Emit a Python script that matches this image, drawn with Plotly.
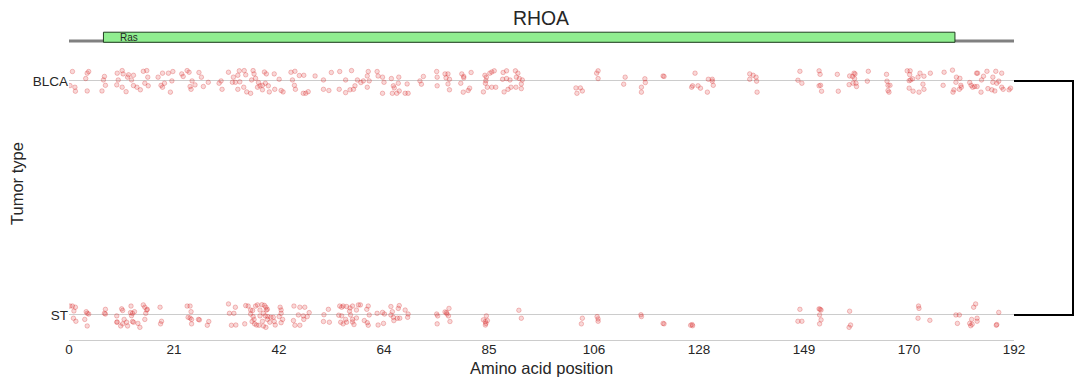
import plotly.graph_objects as go

protein = "RHOA"
protein_length = 192
domain_names = ["Ras"]
domain_start = [7]
domain_end = [180]
tumor_types = ["BLCA", "ST"]
tick_labels = ["0", "21", "42", "64", "85", "106", "128", "149", "170", "192"]

# (amino acid position, vertical jitter in row units)
blca_points = [
    (0.7,0.04),(0.2,-0.02),(1.2,-0.027),(1.3,-0.044),(3.7,0.033),(4.0,0.04),(3.4,0.01),(3.7,-0.043),
    (7.2,0.019),(7.0,0.004),(7.4,-0.019),(6.7,-0.043),(9.8,0.033),(10.8,0.044),(11.0,0.03),(10.0,0.004),
    (9.7,-0.017),(10.8,-0.027),(11.6,-0.046),(12.1,0.026),(11.9,0.016),(12.7,0.004),(13.1,0.024),(13.1,-0.02),
    (13.8,-0.027),(14.5,-0.038),(15.1,0.041),(15.8,0.044),(15.4,-0.01),(16.0,0.016),(16.1,-0.021),(18.1,0.016),
    (19.0,0.033),(18.7,-0.019),(19.0,-0.027),(19.4,-0.01),(20.2,0.033),(21.1,0.04),(20.9,0.0),(20.6,-0.048),
    (22.9,0.03),(23.2,0.019),(24.0,0.044),(24.4,0.037),(25.0,0.0),(24.6,-0.024),(24.8,-0.036),(25.6,-0.017),
    (26.4,0.036),(26.9,0.016),(27.3,-0.024),(28.3,-0.006),(30.5,-0.01),(30.9,0.0),(31.1,-0.036),(32.4,0.037),
    (33.2,-0.006),(33.4,0.016),(33.8,-0.006),(34.3,0.024),(34.3,-0.036),(34.6,0.043),(34.7,-0.004),(35.6,0.044),
    (35.9,0.026),(35.5,-0.027),(36.1,-0.047),(36.9,-0.053),(37.4,0.044),(37.6,0.03),(37.1,0.004),(37.9,0.011),
    (38.5,-0.007),(38.3,-0.027),(38.8,-0.021),(39.3,-0.019),(39.3,-0.038),(39.7,0.038),(40.1,0.03),(39.9,-0.01),
    (40.5,-0.021),(40.7,-0.047),(41.7,0.03),(41.8,-0.036),(42.7,0.007),(43.1,-0.041),(43.5,-0.047),(45.1,0.037),
    (45.9,0.041),(45.4,0.004),(45.8,-0.019),(46.0,-0.036),(46.8,0.023),(47.7,0.024),(47.6,-0.053),(48.1,-0.053),
    (48.6,-0.046),(50.0,0.021),(51.7,0.004),(51.7,-0.036),(52.8,-0.041),(53.3,0.036),(55.0,0.04),(54.9,-0.036),
    (56.2,-0.05),(56.2,0.004),(57.4,0.044),(57.1,-0.038),(57.8,-0.036),(58.1,-0.021),(58.6,0.004),(59.3,-0.007),
    (59.8,0.0),(60.8,0.04),(60.6,0.021),(61.0,0.0),(60.6,-0.027),(62.6,0.04),(62.8,0.021),(63.7,0.016),
    (64.0,-0.006),(63.7,-0.053),(65.5,0.01),(65.9,-0.021),(66.1,-0.03),(65.7,-0.053),(66.6,-0.053),(67.0,0.016),
    (66.9,-0.01),(67.1,-0.043),(68.3,-0.053),(68.9,-0.053),(68.7,-0.013),(71.3,0.0),(71.6,-0.014),(72.0,0.019),
    (74.7,0.04),(74.8,0.016),(74.8,-0.021),(76.4,0.03),(77.0,0.03),(76.6,0.013),(77.3,0.007),(77.0,-0.013),
    (77.3,-0.038),(79.8,0.03),(80.2,0.019),(80.2,0.013),(79.6,-0.01),(81.7,0.036),(81.4,-0.031),(81.1,-0.041),
    (80.1,-0.048),(84.5,0.024),(84.8,0.016),(85.5,0.033),(85.9,0.038),(86.4,0.043),(84.7,0.001),(84.6,-0.01),
    (85.0,-0.027),(84.2,-0.047),(85.9,-0.027),(86.7,-0.027),(88.1,0.007),(88.2,0.036),(88.9,0.043),(88.9,0.01),
    (89.6,0.004),(89.8,-0.027),(89.2,-0.036),(88.4,-0.047),(90.7,0.043),(91.2,0.033),(90.9,0.016),(91.5,0.01),
    (92.1,0.004),(91.9,-0.013),(91.9,-0.033),(90.8,-0.027),(107.2,0.033),(107.5,0.043),(107.5,0.01),(103.0,-0.03),
    (103.2,-0.053),(103.9,-0.03),(104.3,-0.043),(113.0,0.016),(112.7,-0.014),(117.0,0.009),(117.1,-0.007),
    (116.3,-0.027),(116.3,-0.048),(120.7,0.021),(120.9,0.019),(126.5,-0.027),(126.7,-0.021),(127.2,0.033),
    (127.8,-0.021),(128.3,-0.031),(129.9,0.007),(130.7,0.007),(130.7,-0.001),(130.9,-0.019),(129.7,-0.048),
    (138.3,0.03),(139.0,0.024),(139.6,0.016),(138.3,0.007),(139.7,-0.001),(139.8,-0.048),(148.5,0.041),
    (148.1,0.003),(148.9,-0.01),(152.4,0.043),(152.6,0.028),(152.4,-0.021),(152.7,-0.019),(152.9,-0.044),
    (156.1,0.028),(156.3,-0.044),(158.6,0.021),(159.2,0.019),(159.5,0.033),(159.7,0.03),(159.6,0.01),
    (159.3,-0.01),(159.9,-0.01),(158.5,-0.016),(160.0,-0.024),(162.4,0.041),(162.2,-0.001),(166.1,0.028),
    (166.2,-0.001),(166.4,-0.019),(166.8,-0.019),(166.4,-0.041),(166.6,-0.048),(170.3,0.043),(170.9,0.043),
    (170.8,0.027),(171.4,0.009),(171.0,0.004),(170.7,0.001),(172.5,0.016),(172.9,0.033),(173.7,0.02),
    (173.5,-0.014),(173.7,-0.036),(172.7,-0.048),(171.5,-0.044),(170.7,-0.031),(175.0,0.033),(177.8,0.037),
    (179.5,0.046),(177.6,-0.019),(179.8,-0.038),(179.6,-0.048),(180.3,0.016),(181.0,0.011),(180.2,-0.006),
    (180.9,-0.036),(181.2,-0.019),(181.3,-0.027),(184.4,0.033),(184.6,0.033),(183.0,-0.007),(183.3,-0.019),
    (183.6,-0.027),(184.0,-0.024),(184.5,-0.024),(185.4,0.004),(185.8,0.02),(185.3,-0.048),(186.5,0.041),
    (186.7,-0.033),(187.5,-0.038),(188.1,-0.043),(187.7,0.016),(188.3,0.041),(189.5,0.033),(187.7,-0.006),
    (188.5,-0.01),(188.9,-0.001),(189.5,-0.027),(189.8,-0.036),(191.0,-0.038),(191.3,-0.031),
]

st_points = [
    (0.2,0.038),(0.7,0.038),(1.3,0.033),(1.0,0.017),(0.9,-0.014),(1.4,-0.027),(3.5,0.014),(3.7,0.007),
    (4.0,0.004),(3.2,-0.019),(3.7,-0.047),(7.2,0.007),(7.4,0.004),(7.4,0.024),(9.7,-0.004),(9.8,-0.03),
    (9.7,-0.031),(10.7,0.026),(10.9,0.019),(10.5,-0.047),(10.9,-0.038),(11.2,-0.019),(11.7,-0.031),(11.9,-0.047),
    (12.6,0.038),(12.5,0.01),(12.9,0.007),(12.7,-0.003),(12.9,-0.028),(13.1,-0.031),(13.3,0.014),(14.0,-0.036),
    (14.4,-0.053),(15.1,0.043),(15.4,0.033),(15.8,0.021),(15.9,0.024),(15.6,0.007),(15.4,-0.019),(18.5,0.033),
    (18.8,-0.027),(18.6,-0.038),(24.0,0.038),(24.6,0.038),(24.8,0.014),(24.2,-0.01),(24.6,-0.013),(24.9,-0.019),
    (24.9,-0.038),(26.3,-0.019),(26.5,-0.021),(28.1,-0.044),(28.4,-0.028),(32.4,0.047),(32.6,0.007),(33.8,0.033),
    (33.5,0.007),(33.0,-0.044),(33.9,-0.043),(35.9,0.04),(36.4,0.038),(36.9,0.021),(37.3,0.019),(36.9,0.004),
    (37.4,-0.007),(37.6,-0.019),(35.7,-0.038),(37.2,-0.028),(37.7,-0.038),(38.1,-0.043),(38.6,-0.044),(37.9,0.038),
    (38.3,0.043),(39.2,0.044),(39.7,0.041),(40.0,0.033),(38.8,0.021),(39.5,0.007),(38.8,-0.004),(40.1,0.021),
    (40.3,0.024),(39.9,-0.004),(40.4,-0.007),(40.3,-0.019),(39.3,-0.027),(39.5,-0.047),(40.0,-0.053),(41.0,-0.01),
    (40.8,-0.031),(41.5,-0.01),(41.7,-0.028),(41.9,-0.043),(42.9,0.033),(43.1,0.021),(43.1,0.007),(42.7,-0.007),
    (43.4,-0.019),(43.1,-0.033),(45.7,0.038),(46.9,0.033),(47.9,0.033),(46.6,0.0),(47.6,-0.004),(48.8,0.01),
    (45.6,-0.024),(45.9,-0.044),(46.9,-0.044),(47.7,-0.019),(48.4,-0.007),(51.8,0.001),(51.7,-0.028),(52.7,0.024),
    (52.9,-0.031),(55.0,0.038),(55.4,0.033),(55.7,0.038),(54.8,-0.001),(55.4,-0.004),(55.2,-0.031),(55.7,-0.038),
    (56.4,0.036),(57.1,0.03),(57.6,0.038),(57.0,0.016),(57.2,0.0),(56.2,-0.019),(56.4,-0.031),(57.6,-0.019),
    (57.6,-0.03),(57.9,-0.041),(58.4,0.021),(58.8,0.043),(58.4,-0.013),(59.2,0.043),(60.8,0.038),(60.5,0.024),
    (61.0,0.0),(60.6,-0.033),(60.8,-0.044),(60.0,-0.024),(62.6,0.007),(62.8,-0.043),(63.7,0.011),(63.9,-0.036),
    (64.1,0.004),(65.4,0.036),(65.7,0.014),(65.4,0.0),(65.9,-0.01),(66.0,-0.024),(67.1,0.04),(66.9,0.028),
    (66.7,-0.014),(67.2,-0.014),(68.3,0.021),(68.9,0.004),(68.8,-0.01),(74.7,0.004),(74.9,-0.004),(74.8,-0.038),
    (76.4,0.013),(76.7,0.01),(76.8,0.004),(77.2,0.028),(77.1,-0.004),(77.4,-0.028),(84.2,-0.021),(84.6,-0.028),
    (84.7,-0.036),(84.8,-0.004),(84.6,-0.043),(85.0,-0.024),(91.4,0.02),(91.9,-0.014),(104.1,-0.038),
    (104.3,-0.014),(107.3,-0.007),(107.5,-0.017),(107.5,-0.027),(116.2,0.001),(116.3,-0.007),(120.7,-0.036),
    (120.9,-0.038),(126.3,-0.044),(126.6,-0.041),(126.7,-0.046),(148.5,0.024),(148.1,-0.027),(148.9,-0.027),
    (152.4,0.026),(152.6,0.024),(152.8,0.021),(152.5,0.0),(152.8,-0.021),(152.5,-0.038),(158.6,0.016),
    (158.8,-0.043),(158.5,-0.053),(172.6,0.038),(172.7,0.028),(172.5,-0.014),(174.9,-0.023),(180.2,0.0),
    (180.9,0.0),(180.5,-0.036),(183.0,-0.036),(183.2,-0.046),(183.4,-0.019),(183.5,-0.04),(183.8,0.033),
    (184.2,0.047),(184.5,-0.014),(184.5,-0.027),(188.4,-0.044),(188.5,-0.041),(188.9,0.011),
]

FONT = "Liberation Sans, Arial, sans-serif"
TXT = "#262626"

row_y = {"BLCA": 1.0, "ST": 0.0}

fig = go.Figure()
for name, pts in (("BLCA", blca_points), ("ST", st_points)):
    fig.add_trace(go.Scatter(
        x=[p[0] for p in pts],
        y=[row_y[name] + p[1] for p in pts],
        mode="markers",
        marker=dict(size=4.5, color="rgba(214,39,40,0.18)", line=dict(color="rgba(214,39,40,0.28)", width=1)),
        showlegend=False, hoverinfo="x", name=name,
    ))

# dendrogram on the right
fig.add_trace(go.Scatter(
    x=[0, 1, 1, 0], y=[row_y["BLCA"], row_y["BLCA"], row_y["ST"], row_y["ST"]],
    mode="lines", line=dict(color="black", width=2),
    xaxis="x2", yaxis="y2", showlegend=False, hoverinfo="skip",
))

L = protein_length
tickvals = [L * i / 9 for i in range(10)]
backbone_y = 1.170
shapes = [dict(type="line", xref="x", yref="y", x0=0, x1=L, y0=backbone_y, y1=backbone_y,
               line=dict(color="#808080", width=3), layer="above")]
split = 945 / 1017
annotations = [
    dict(text="Tumor type", xref="paper", yref="paper", x=0, y=0.5, xshift=-52, textangle=-90,
         showarrow=False, xanchor="center", yanchor="middle",
         font=dict(size=16.5, color=TXT, family=FONT)),
    dict(text="Amino acid position", xref="paper", yref="paper", x=split / 2, y=0, yshift=-28,
         showarrow=False, xanchor="center", yanchor="middle",
         font=dict(size=16.5, color=TXT, family=FONT)),
]
for n, s, e in zip(domain_names, domain_start, domain_end):
    shapes.append(dict(type="rect", xref="x", yref="y", x0=s, x1=e, y0=1.165, y1=1.208,
                       fillcolor="#90ee90", line=dict(color="#1f3f1f", width=1), layer="above"))
    annotations.append(dict(x=s + 3, y=(1.165 + 1.208) / 2, xref="x", yref="y", text=n,
                            showarrow=False, xanchor="left", yanchor="middle",
                            font=dict(size=10, color=TXT, family=FONT)))

yr = [-0.107, 1.226]
fig.update_layout(
    width=1086, height=385,
    margin=dict(l=69, r=0, t=28, b=45),
    paper_bgcolor="white", plot_bgcolor="white",
    font=dict(family=FONT, color=TXT),
    title=dict(text=protein, x=541 / 1086, xref="container", xanchor="center",
               y=1 - 18 / 385, yref="container", yanchor="middle",
               font=dict(size=19.4, color=TXT, family=FONT)),
    xaxis=dict(domain=[0, split], range=[0, L], tickvals=tickvals, ticktext=tick_labels,
               showgrid=False, zeroline=False, showline=True, linecolor="#cccccc", linewidth=1,
               ticks="", tickfont=dict(size=13.5, color=TXT), automargin=False,
               ticklabelstandoff=-3),
    yaxis=dict(range=yr, tickvals=[row_y[t] for t in tumor_types], ticktext=tumor_types,
               showgrid=True, gridcolor="#cccccc", gridwidth=1, zeroline=False, showline=False,
               ticks="", tickfont=dict(size=13.5, color=TXT), automargin=False),
    xaxis2=dict(domain=[split, 1], range=[0, 72 / 59], visible=False, anchor="y2"),
    yaxis2=dict(range=yr, visible=False, anchor="x2"),
    shapes=shapes, annotations=annotations,
)
fig.write_html("out.html", config={"displayModeBar": False},
               post_script="document.body.style.margin='0';")
